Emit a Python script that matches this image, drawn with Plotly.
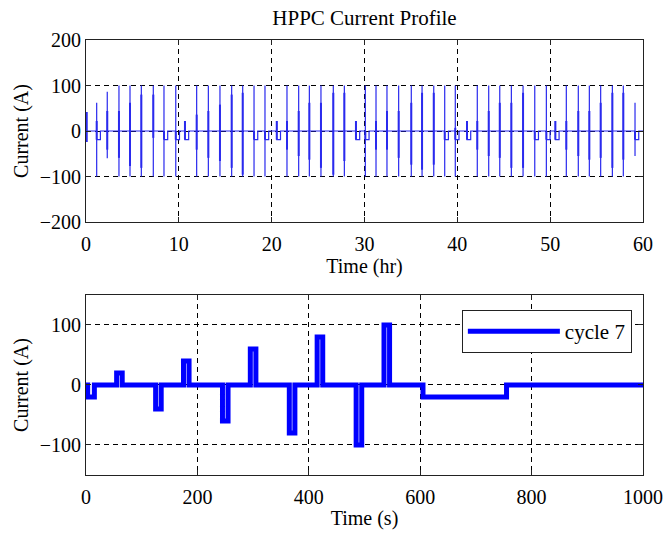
import plotly.graph_objects as go

# ---------------- data: top panel (HPPC groups over 60 h) ----------------
group_time_hr = [0.07, 1.15, 2.29, 3.55, 4.74, 5.96, 7.25, 8.40, 9.67,
                 10.66, 11.92, 13.18, 14.43, 15.69, 16.88, 18.10, 19.28,
                 20.55, 21.65, 22.91, 24.06, 25.31, 26.64, 27.83, 29.08, 30.09,
                 31.24, 32.42, 33.68, 35.04, 36.20, 37.46, 38.64, 39.78, 41.04,
                 42.15, 43.38, 44.57, 45.82, 47.08, 48.34, 49.59, 50.56, 51.74,
                 53.03, 54.22, 55.44, 56.70, 57.88, 59.14]
group_peak_pos = [42, 62, 86, 100, 100, 100, 100, 100, 100,
                  22, 100, 100, 100, 100, 100, 100, 100,
                  22, 100, 100, 100, 100, 100, 100, 22, 100,
                  100, 100, 100, 100, 100, 100, 100, 100, 22,
                  100, 100, 100, 100, 100, 100, 100, 22, 100,
                  100, 100, 100, 100, 100, 62]
group_peak_neg = [-24, -100, -60, -100, -100, -100, -100, -100, -100,
                  -19, -100, -100, -100, -100, -100, -100, -100,
                  -19, -100, -100, -100, -100, -100, -100, -19, -100,
                  -100, -100, -100, -100, -100, -100, -100, -100, -19,
                  -100, -100, -100, -100, -100, -100, -100, -19, -100,
                  -100, -100, -100, -100, -100, -55]
group_dense_hi = [42, 22, 44, 44, 62, 80, 80, 0, 0,
                  22, 36, 44, 58, 80, 84, 0, 0,
                  22, 22, 44, 62, 62, 84, 84, 22, 0,
                  22, 44, 44, 62, 84, 84, 0, 7, 22,
                  22, 44, 62, 62, 84, 0, 0, 22, 22,
                  44, 44, 62, 84, 84, 0]
group_dense_lo = [-24, -19, -41, -59, -77, -81, -15, -19, -19,
                  -19, -41, -59, -66, -81, -96, -19, -19,
                  -19, -41, -55, -63, -81, -96, -66, -19, -19,
                  -41, -41, -59, -74, -85, -74, -19, -19, -19,
                  -41, -55, -59, -81, -81, -19, -19, -19, -41,
                  -55, -63, -59, -81, -63, -19]
group_rest_discharge = [0, 1, 0, 0, 0, 0, 0, 1, 1,
                        1, 0, 0, 0, 0, 0, 1, 1,
                        1, 0, 0, 0, 0, 0, 0, 1, 1,
                        0, 0, 0, 0, 0, 0, 1, 1, 1,
                        0, 0, 0, 0, 0, 1, 1, 1, 0,
                        0, 0, 0, 0, 0, 1]
rest_discharge_current = -19
rest_discharge_hours = 0.4
profile_end_hr = 60

# ---------------- data: bottom panel (cycle 7, seconds) ----------------
cycle_t_s = [0, 3, 15, 55, 65, 125, 135, 175, 185, 245, 255, 295, 305,
             365, 375, 415, 425, 485, 495, 535, 545, 605, 755, 1000]
cycle_i_a = [0, -20, 0, 20, 0, -40, 0, 40, 0, -60, 0, 60, 0,
             -80, 0, 80, 0, -100, 0, 100, 0, -20, 0, 0]

top_xticks = [0, 10, 20, 30, 40, 50, 60]
top_yticks = [-200, -100, 0, 100, 200]
bot_xticks = [0, 200, 400, 600, 800, 1000]
bot_yticks = [-100, 0, 100]

# ---------------- build top traces ----------------
thin_x, thin_y = [0], [0]
dense_x, dense_y = [], []
for t, p, n, hi, lo, rd in zip(group_time_hr, group_peak_pos, group_peak_neg,
                               group_dense_hi, group_dense_lo, group_rest_discharge):
    thin_x += [t, t, t, t]
    thin_y += [0, p, n, 0]
    if rd:
        thin_x += [t, t + rest_discharge_hours, t + rest_discharge_hours]
        thin_y += [rest_discharge_current, rest_discharge_current, 0]
    dense_x += [t, t, None]
    dense_y += [hi, lo, None]
thin_x.append(profile_end_hr)
thin_y.append(0)

FONT = "Liberation Serif, Times New Roman, serif"
BLUE = "#0000ff"

fig = go.Figure()
fig.add_trace(go.Scatter(x=thin_x, y=thin_y, mode="lines",
                         line=dict(color="#2a2aee", width=1.2),
                         xaxis="x", yaxis="y", showlegend=False, hoverinfo="skip"))
fig.add_trace(go.Scatter(x=dense_x, y=dense_y, mode="lines",
                         line=dict(color="#2a2aee", width=2),
                         xaxis="x", yaxis="y", showlegend=False, hoverinfo="skip"))
fig.add_trace(go.Scatter(x=cycle_t_s, y=cycle_i_a, mode="lines", name="cycle 7",
                         line=dict(color=BLUE, width=5, shape="hv"),
                         xaxis="x2", yaxis="y2", showlegend=True))

axis_common = dict(
    showline=True, linecolor="#222222", linewidth=1, mirror="all",
    ticks="inside", ticklen=5, tickcolor="#222222",
    showgrid=True, gridcolor="#000000", gridwidth=1, griddash="5px,4px",
    zeroline=False, automargin=False,
    tickfont=dict(family=FONT, size=20, color="black"),
)

fig.update_layout(
    width=666, height=536,
    margin=dict(l=86, r=23, t=40, b=61),
    paper_bgcolor="white", plot_bgcolor="white",
    font=dict(family=FONT, size=20, color="black"),
    title=dict(text="HPPC Current Profile", x=(86 + 643) / 2 / 666, xanchor="center",
               y=1 - 18 / 536, yanchor="middle", yref="container", automargin=False,
               font=dict(family=FONT, size=21, color="black")),
    xaxis=dict(domain=[0, 1], anchor="y", range=[0, 60], tickvals=top_xticks,
               ticklabelstandoff=4,
               title=dict(text="Time (hr)", standoff=2, font=dict(family=FONT, size=20)),
               **axis_common),
    yaxis=dict(domain=[0.5816, 1], anchor="x", range=[-200, 200], tickvals=top_yticks,
               title=dict(text="Current (A)", standoff=5, font=dict(family=FONT, size=20)),
               **axis_common),
    xaxis2=dict(domain=[0, 1], anchor="y2", range=[0, 1000], tickvals=bot_xticks,
                ticklabelstandoff=4,
                title=dict(text="Time (s)", standoff=3, font=dict(family=FONT, size=20)),
                **axis_common),
    yaxis2=dict(domain=[0, 0.4138], anchor="x2", range=[-150, 150], tickvals=bot_yticks,
                title=dict(text="Current (A)", standoff=5, font=dict(family=FONT, size=20)),
                **axis_common),
    legend=dict(x=0.980, xanchor="right", y=0.3793, yanchor="top",
                bordercolor="#222222", borderwidth=1, bgcolor="white",
                font=dict(family=FONT, size=21, color="black"),
                itemwidth=92, tracegroupgap=0),
)

fig.write_html("out.html", config={"displayModeBar": False},
               post_script="document.body.style.margin='0';document.body.style.overflow='hidden';")
